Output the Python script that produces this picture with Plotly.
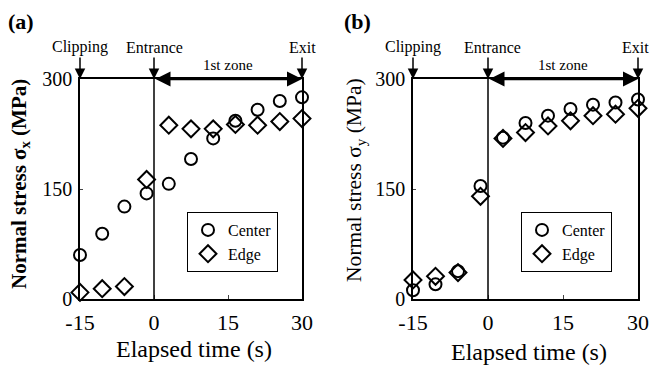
import plotly.graph_objects as go

# Data
time_s = [-15, -10.5, -6, -1.5, 3, 7.5, 12, 16.5, 21, 25.5, 30]
sx_center = [60, 89, 126, 144, 157, 191, 219, 243, 258, 270, 275]
sx_edge = [9, 14, 17, 163, 237, 232, 232, 238, 237, 242, 246]
sy_center = [12, 20, 38, 154, 220, 240, 250, 259, 265, 268, 272]
sy_edge = [26, 31, 36, 140, 219, 227, 236, 243, 250, 252, 260]
x_ticks = [-15, 0, 15, 30]
x_ticktext = ["-15", "0", "15", "30"]
y_ticks = [0, 150, 300]
event_times = [-15, 0, 30]
event_labels = ["Clipping", "Entrance", "Exit"]

FONT = "Liberation Serif"
W, H = 650, 369

fig = go.Figure()

def add_panel(xa, ya, legend, yc, ye):
    fig.add_trace(go.Scatter(
        x=time_s, y=yc, mode="markers", name="Center",
        xaxis=xa, yaxis=ya, legend=legend, cliponaxis=False,
        marker=dict(symbol="circle-open", size=12, color="black",
                    line=dict(width=2, color="black"))))
    fig.add_trace(go.Scatter(
        x=time_s, y=ye, mode="markers", name="Edge",
        xaxis=xa, yaxis=ya, legend=legend, cliponaxis=False,
        marker=dict(symbol="diamond-open", size=13, color="black",
                    line=dict(width=2, color="black"))))

add_panel("x", "y", "legend", sx_center, sx_edge)
add_panel("x2", "y2", "legend2", sy_center, sy_edge)

ybot, ytop = 1 - 299 / H, 1 - 79 / H
ax_common = dict(range=[-15, 30], tickvals=x_ticks, ticktext=x_ticktext, ticks="inside", ticklen=4,
                 showgrid=False, zeroline=False, showline=True, linecolor="black",
                 linewidth=1.5, mirror=True, tickfont=dict(family=FONT, size=22, color="black"),
                 ticklabelstandoff=3, title=None, automargin=False)
ay_common = dict(range=[0, 300], tickvals=y_ticks, ticks="inside", ticklen=3,
                 showgrid=False, zeroline=False, showline=True, linecolor="black",
                 linewidth=1.5, mirror=True, tickfont=dict(family=FONT, size=20, color="black"),
                 ticklabelstandoff=2, title=None, automargin=False)

legend_common = dict(xanchor="left", yanchor="top", bordercolor="black", borderwidth=1,
                     bgcolor="white", font=dict(family=FONT, size=16, color="black"),
                     tracegroupgap=0, itemwidth=30)

fig.update_layout(
    width=W, height=H, margin=dict(l=0, r=0, t=0, b=0, pad=0, autoexpand=False),
    paper_bgcolor="white", plot_bgcolor="white",
    font=dict(family=FONT, color="black"),
    xaxis=dict(domain=[80 / W, 302 / W], anchor="y", **ax_common),
    yaxis=dict(domain=[ybot, ytop], anchor="x", **ay_common),
    xaxis2=dict(domain=[413 / W, 638 / W], anchor="y2", **ax_common),
    yaxis2=dict(domain=[ybot, ytop], anchor="x2", **ay_common),
    legend=dict(x=187 / W, y=1 - 212 / H, **legend_common),
    legend2=dict(x=521 / W, y=1 - 212 / H, **legend_common),
    showlegend=True,
)

annotations = []
shapes = []
panels = [
    dict(xa="x", ya="y", tag="(a)", tagx=21, ylab="<b>Normal stress σ<sub>x</sub> (MPa)</b>",
         ysize=21, ytx=20, yty=184, xtx=194, xty=349, shifts=[0, 0, 0]),
    dict(xa="x2", ya="y2", tag="(b)", tagx=357, ylab="Normal stress σ<sub>y</sub> (MPa)",
         ysize=21.5, ytx=355, yty=180, xtx=529, xty=352, shifts=[0, 4, -3]),
]
for p in panels:
    xa, ya = p["xa"], p["ya"]
    # vertical line at t=0
    shapes.append(dict(type="line", xref=xa, yref=ya, x0=0, x1=0, y0=0, y1=300,
                       line=dict(color="black", width=1.5)))
    # event arrows and labels
    for t, lab, sh in zip(event_times, event_labels, p["shifts"]):
        annotations.append(dict(x=t, y=300, xref=xa, yref=ya, text="",
                                showarrow=True, ax=0, ay=-23, arrowhead=2,
                                arrowsize=1.4, arrowwidth=1.5, arrowcolor="black",
                                standoff=0))
        annotations.append(dict(x=t, y=1 - 47 / H, xref=xa, yref="paper", text=lab,
                                xanchor="center", yanchor="middle", xshift=sh,
                                showarrow=False, font=dict(family=FONT, size=16, color="black")))
    # double arrow 1st zone
    annotations.append(dict(x=30, y=300, xref=xa, yref=ya, ax=0, ay=300,
                            axref=xa, ayref=ya, text="", showarrow=True,
                            arrowhead=2, arrowside="end+start", arrowsize=1.2,
                            arrowwidth=2.5, arrowcolor="black", standoff=0, startstandoff=0))
    annotations.append(dict(x=15, y=1 - 65 / H, xref=xa, yref="paper", text="1st zone",
                            xanchor="center", yanchor="middle",
                            showarrow=False, font=dict(family=FONT, size=15, color="black")))
    # panel tag
    annotations.append(dict(x=p["tagx"] / W, y=1 - 22 / H, xref="paper", yref="paper",
                            xanchor="center", yanchor="middle",
                            text="<b>%s</b>" % p["tag"], showarrow=False,
                            font=dict(family=FONT, size=22, color="black")))
    # y title
    annotations.append(dict(x=p["ytx"] / W, y=1 - p["yty"] / H, xref="paper", yref="paper",
                            xanchor="center", yanchor="middle",
                            text=p["ylab"], textangle=-90,
                            showarrow=False, font=dict(family=FONT, size=p["ysize"], color="black")))
    # x title
    annotations.append(dict(x=p["xtx"] / W, y=1 - p["xty"] / H, xref="paper", yref="paper",
                            xanchor="center", yanchor="middle",
                            text="Elapsed time (s)", showarrow=False,
                            font=dict(family=FONT, size=24, color="black")))

fig.update_layout(annotations=annotations, shapes=shapes)
fig.write_html("out.html")
